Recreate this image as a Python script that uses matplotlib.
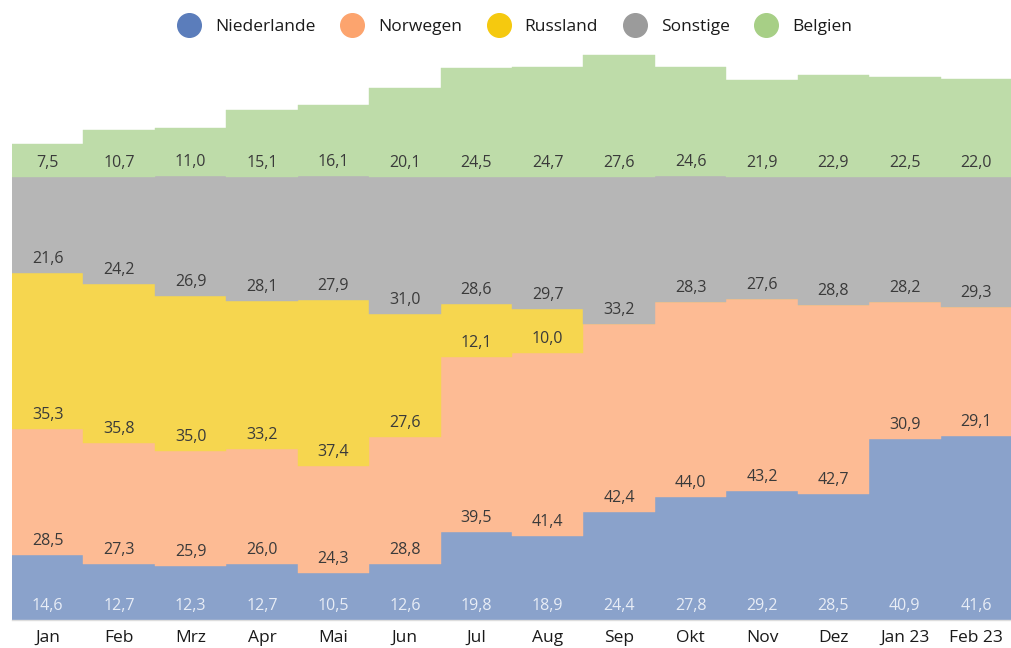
import matplotlib
matplotlib.use("Agg")
import matplotlib.pyplot as plt
from matplotlib.lines import Line2D
import numpy as np

months = ["Jan", "Feb", "Mrz", "Apr", "Mai", "Jun", "Jul", "Aug", "Sep", "Okt", "Nov", "Dez", "Jan 23", "Feb 23"]
niederlande = [14.6, 12.7, 12.3, 12.7, 10.5, 12.6, 19.8, 18.9, 24.4, 27.8, 29.2, 28.5, 40.9, 41.6]
norwegen = [28.5, 27.3, 25.9, 26.0, 24.3, 28.8, 39.5, 41.4, 42.4, 44.0, 43.2, 42.7, 30.9, 29.1]
russland = [35.3, 35.8, 35.0, 33.2, 37.4, 27.6, 12.1, 10.0, 0, 0, 0, 0, 0, 0]
sonstige = [21.6, 24.2, 26.9, 28.1, 27.9, 31.0, 28.6, 29.7, 33.2, 28.3, 27.6, 28.8, 28.2, 29.3]
belgien = [7.5, 10.7, 11.0, 15.1, 16.1, 20.1, 24.5, 24.7, 27.6, 24.6, 21.9, 22.9, 22.5, 22.0]

series_names = ["Niederlande", "Norwegen", "Russland", "Sonstige", "Belgien"]
series = [niederlande, norwegen, russland, sonstige, belgien]
legend_colors = ["#5b7dbb", "#fca46e", "#f5c90f", "#9b9b9b", "#a7cf86"]
area_colors = ["#8aa2cb", "#fdbb94", "#f6d64f", "#b6b6b6", "#bedca9"]
label_colors = ["#e8edf6", "#3a3a3a", "#3a3a3a", "#3a3a3a", "#3a3a3a"]

plt.rcParams['font.family'] = ['Open Sans', 'DejaVu Sans']

fig = plt.figure(figsize=(10.12, 6.48), dpi=100)
ax = fig.add_axes([12/1012, 28/648, 1000/1012, (620-44)/648])

x = np.arange(len(months))
bottom = np.zeros(len(months))
for name, vals, ac, lc in zip(series_names, series, area_colors, label_colors):
    vals = np.array(vals, dtype=float)
    ax.bar(x, vals, width=1.0, bottom=bottom, color=ac, edgecolor=ac, linewidth=0.3)
    for xi, v, b in zip(x, vals, bottom):
        if v > 0:
            ax.annotate(f"{v:.1f}".replace(".", ","), (xi, b), xytext=(0, 14),
                        textcoords="offset pixels", ha="center", va="center",
                        fontsize=11.5, color=lc)
    bottom = bottom + vals

ax.set_xlim(-0.5, len(months) - 0.5)
ax.set_ylim(0, 130)
ax.set_yticks([])
ax.set_xticks(x)
ax.set_xticklabels(months, fontsize=12.5, color="#1a1a1a")
ax.tick_params(axis="x", length=0, pad=7)
for s in ["top", "right", "left"]:
    ax.spines[s].set_visible(False)
ax.spines["bottom"].set_color("#dddddd")
ax.spines["bottom"].set_linewidth(1)

handles = [Line2D([0], [0], marker="o", linestyle="none", markersize=17,
                  markerfacecolor=c, markeredgecolor=c) for c in legend_colors]
fig.legend(handles, series_names, loc="center", bbox_to_anchor=(512/1012, 1 - 27/648),
           ncol=5, frameon=False, fontsize=12.5, handletextpad=0.5, columnspacing=1.1,
           labelcolor="#1a1a1a")

fig.savefig("out.png", dpi=100)
